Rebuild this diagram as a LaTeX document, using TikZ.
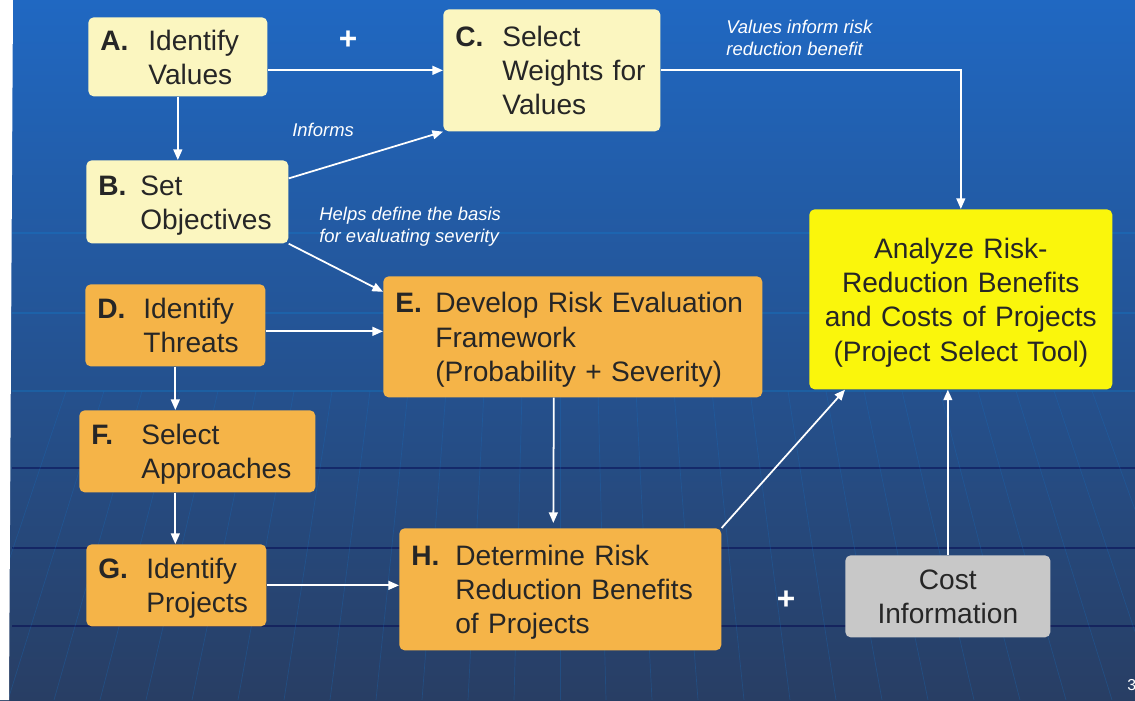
\documentclass[tikz,border=0pt]{standalone}
\usepackage{fontspec}
\setmainfont{Liberation Sans}
\usetikzlibrary{arrows.meta,calc}

\definecolor{fundsus}{RGB}{32,104,194}
\definecolor{fundmij}{RGB}{30,86,156}
\definecolor{fundjos}{RGB}{40,62,100}
\definecolor{palid}{RGB}{251,246,192}
\definecolor{portocaliu}{RGB}{245,180,72}
\definecolor{galben}{RGB}{250,246,12}
\definecolor{gri}{RGB}{200,200,200}

% litera pasului + textul cu indentare (coborat putin)
\newcommand{\litera}[3][0.94cm]{%
  \raisebox{-0.07cm}[\height][\depth]{%
  \begin{tabular}{@{}p{#1}@{}l@{}}\textbf{#2}&#3\end{tabular}}}
% text centrat pe mai multe randuri
\newcommand{\centrat}[1]{%
  \raisebox{-0.07cm}[\height][\depth]{%
  \begin{tabular}{@{}c@{}}#1\end{tabular}}}

\begin{document}
\begin{tikzpicture}[x=0.02cm,y=-0.02cm,
  caseta/.style={rectangle,rounded corners=3pt,anchor=north west,
    inner xsep=0.24cm,inner ysep=0pt,align=left,text=black!85,
    font=\fontsize{16}{19.5}\selectfont},
  valoare/.style={caseta,fill=palid},
  pas/.style={caseta,fill=portocaliu},
  flux/.style={draw=white,line width=1pt,-{Triangle[length=6pt,width=5pt]}},
  nota/.style={text=white,anchor=west,inner sep=0pt,align=left,
    font=\fontsize{10.5}{12.5}\selectfont\itshape},
  plus/.style={text=white,font=\fontsize{18}{20}\selectfont\bfseries}]

  \useasboundingbox (0,0) rectangle (1135,700);

  % fundal
  \shade[top color=fundsus,middle color=fundmij,bottom color=fundjos]
    (0,0) rectangle (1135,700);
  \foreach \y in {233,313,391}
    \draw[cyan!60!blue,opacity=.35,line width=.6pt] (12,\y) -- (1135,\y);
  \foreach \y in {468,548,626}
    \draw[black!70!blue,opacity=.45,line width=.8pt] (12,\y) -- (1135,\y);
  \foreach \x in {-13,...,14}
    \draw[cyan!50!blue,opacity=.3,line width=.4pt]
      ({560+\x*38},391) -- ({560+\x*46},700);
  \fill[white] (0,0) -- (13,0) -- (9,700) -- (0,700) -- cycle;

  % casete
  \node[valoare,text width=3.10cm,minimum height=1.58cm] (A) at (88,17)
    {\litera[0.96cm]{A.}{Identify\\&Values}};
  \node[valoare,text width=3.86cm,minimum height=2.44cm] (C) at (443,9)
    {\litera[0.94cm]{C.}{Select\\&Weights for\\&Values}};
  \node[valoare,text width=3.56cm,minimum height=1.66cm] (B) at (86,160)
    {\litera[0.84cm]{B.}{Set\\&Objectives}};
  \node[pas,text width=3.12cm,minimum height=1.64cm] (D) at (85,284)
    {\litera[0.92cm]{D.}{Identify\\&Threats}};
  \node[pas,text width=7.10cm,minimum height=2.42cm] (E) at (383,276)
    {\litera[0.80cm]{E.}{Develop Risk Evaluation\\&Framework\\&(Probability + Severity)}};
  \node[pas,text width=4.24cm,minimum height=1.64cm] (F) at (79,410)
    {\litera[1.00cm]{F.}{Select\\&Approaches}};
  \node[pas,text width=3.12cm,minimum height=1.64cm] (G) at (86,544)
    {\litera[0.96cm]{G.}{Identify\\&Projects}};
  \node[pas,text width=5.96cm,minimum height=2.44cm] (H) at (399,528)
    {\litera[0.88cm]{H.}{Determine Risk\\&Reduction Benefits\\&of Projects}};
  \node[caseta,fill=galben,align=center,text width=5.58cm,minimum height=3.60cm] (T) at (809,209)
    {\centrat{Analyze Risk-\\Reduction Benefits\\and Costs of Projects\\(Project Select Tool)}};
  \node[caseta,fill=gri,align=center,text width=3.62cm,minimum height=1.64cm] (K) at (845,555)
    {\centrat{Cost\\Information}};

  % săgeți
  \draw[flux] (A.east |- C.west) -- (C.west);
  \draw[flux] (A.south) -- (A.south |- B.north);
  \draw[flux] ($(B.north east)!0.22!(B.south east)$) -- (C.south west);
  \draw[flux] (B.south east) -- ($(E.north west)!0.13!(E.south west)$);
  \draw[flux] (C.east) -| (T.north);
  \draw[flux] ($(D.east)+(0,6)$) -- ($(D.east -| E.west)+(0,6)$);
  \draw[flux] (D.south) -- (D.south |- F.north);
  \draw[flux] (D.south |- F.south) -- (D.south |- G.north);
  \draw[flux] ($(E.south)+(-19,0)$) -- ($(H.north)+(-7,-5)$);
  \draw[flux] (G.east) -- (G.east -| H.west);
  \draw[flux] (H.north east) -- ($(T.south west)+(36,0)$);
  \draw[flux] (K.north) -- (K.north |- T.south);

  % etichete
  \node[plus] (p1) at (348,40) {+};
  \node[plus] (p2) at (786,600) {+};
  \node[nota] (n1) at (726,38) {Values inform risk\\reduction benefit};
  \node[nota] (n2) at (292,130) {Informs};
  \node[nota] (n3) at (319,227) {Helps define the basis\\for evaluating severity};
  \node[text=white,anchor=west,inner sep=0pt,font=\small] (pg) at (1127,685) {3};
\end{tikzpicture}
\end{document}
